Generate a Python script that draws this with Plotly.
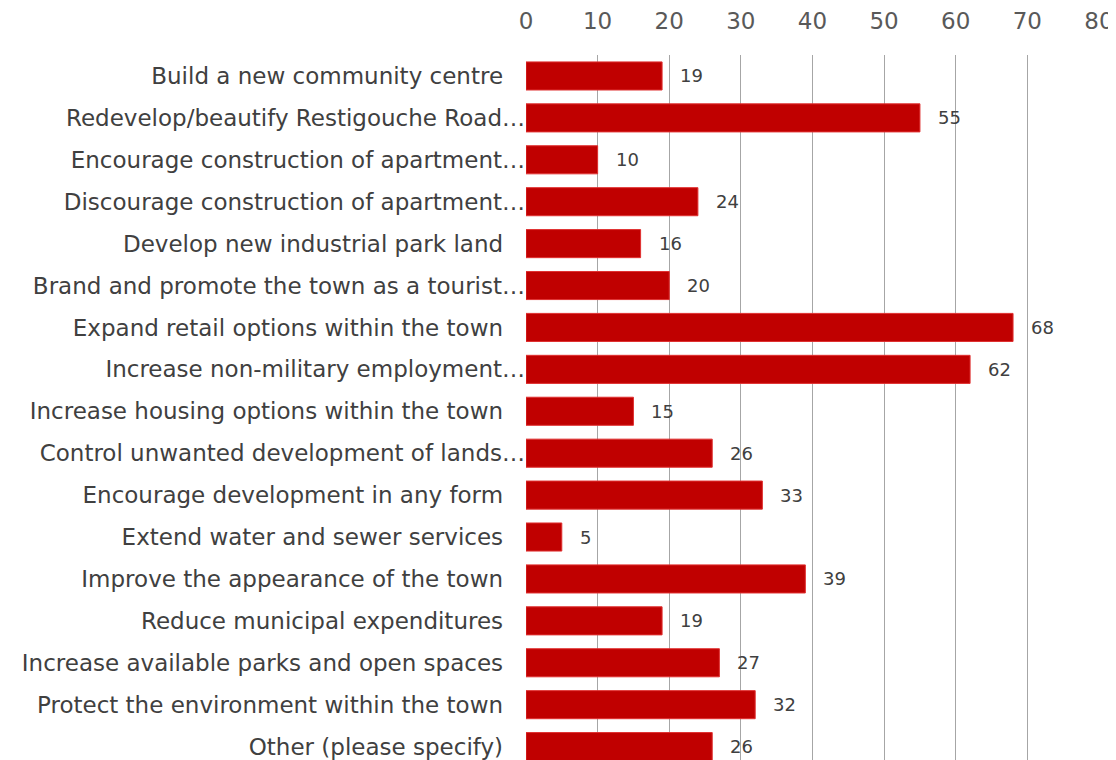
import plotly.graph_objects as go

categories = [
    "Build a new community centre",
    "Redevelop/beautify Restigouche Road…",
    "Encourage construction of apartment…",
    "Discourage construction of apartment…",
    "Develop new industrial park land",
    "Brand and promote the town as a tourist…",
    "Expand retail options within the town",
    "Increase non-military employment…",
    "Increase housing options within the town",
    "Control unwanted development of lands…",
    "Encourage development in any form",
    "Extend water and sewer services",
    "Improve the appearance of the town",
    "Reduce municipal expenditures",
    "Increase available parks and open spaces",
    "Protect the environment within the town",
    "Other (please specify)",
]
values = [19, 55, 10, 24, 16, 20, 68, 62, 15, 26, 33, 5, 39, 19, 27, 32, 26]
x_ticks = [0, 10, 20, 30, 40, 50, 60, 70, 80]

# labels that were not cut off keep a trailing gap before the axis
tick_text = [c if c.endswith("…") else c + "\u00a0" * 3 for c in categories]

fig = go.Figure()

fig.add_trace(go.Bar(
    x=values, y=categories,
    orientation="h",
    marker=dict(color="#C00000", line=dict(color="#E03030", width=1)),
    hoverinfo="x+y",
))

for v, c in zip(values, categories):
    fig.add_annotation(
        x=v, y=c, text=str(v),
        showarrow=False, xanchor="left", xshift=16,
        font=dict(family="DejaVu Sans", size=18, color="#404040"),
    )

# page body adds an 8px offset, so the figure is 8px smaller than the window
fig.update_layout(
    width=1108, height=752,
    margin=dict(l=518, r=17, t=47, b=0),
    plot_bgcolor="white", paper_bgcolor="white",
    showlegend=False,
    bargap=0.33,
    font=dict(family="DejaVu Sans", color="#404040"),
    xaxis=dict(
        side="top", range=[0, 80], tickvals=x_ticks,
        showgrid=True, gridcolor="#A6A6A6", gridwidth=1,
        zeroline=False, showline=False, automargin=False,
        tickfont=dict(size=23, color="#595959"),
        ticklabelstandoff=20,
    ),
    yaxis=dict(
        type="category", range=[16.32, -0.5],
        tickvals=categories, ticktext=tick_text,
        showgrid=False, zeroline=False, automargin=False,
        tickfont=dict(size=23, color="#404040"),
        ticklabelstandoff=0,
    ),
)

fig.write_html("out.html")
